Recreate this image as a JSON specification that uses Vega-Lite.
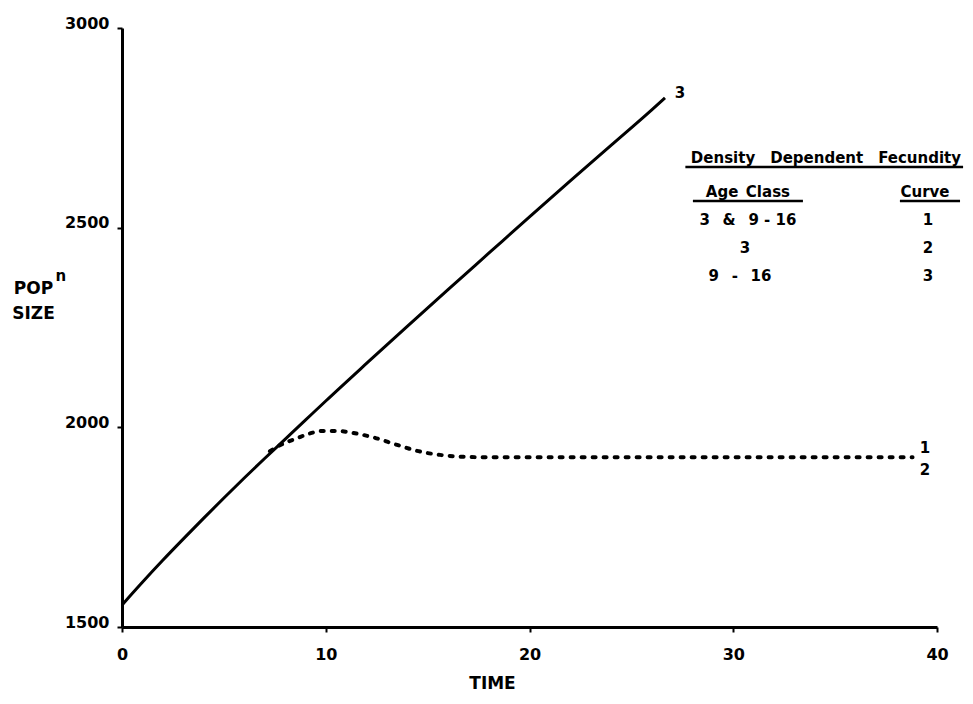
{
  "$schema": "https://vega.github.io/schema/vega-lite/v6.json",
  "width": 815,
  "height": 599,
  "autosize": {"type": "none"},
  "padding": {"left": 122, "top": 28, "right": 36, "bottom": 77},
  "background": "white",
  "config": {
    "view": {"stroke": null},
    "font": "DejaVu Sans",
    "axis": {
      "grid": false,
      "domainColor": "black",
      "domainWidth": 3,
      "tickColor": "black",
      "tickWidth": 2,
      "tickSize": 5,
      "labelFont": "DejaVu Sans",
      "labelFontWeight": "bold",
      "labelFontSize": 16,
      "labelColor": "black",
      "labelFlush": false,
      "titleFont": "DejaVu Sans",
      "titleFontWeight": "bold",
      "titleFontSize": 17,
      "titleColor": "black"
    }
  },
  "datasets": {
    "curve3": [
      {"time": 0, "pop": 1555}, {"time": 1, "pop": 1612}, {"time": 2, "pop": 1667},
      {"time": 3, "pop": 1720}, {"time": 4, "pop": 1772}, {"time": 5, "pop": 1823},
      {"time": 6, "pop": 1873}, {"time": 7, "pop": 1922}, {"time": 8, "pop": 1970},
      {"time": 9, "pop": 2018}, {"time": 10, "pop": 2066}, {"time": 12, "pop": 2160},
      {"time": 14, "pop": 2253}, {"time": 16, "pop": 2345}, {"time": 18, "pop": 2436},
      {"time": 20, "pop": 2527}, {"time": 22, "pop": 2617}, {"time": 24, "pop": 2706},
      {"time": 26, "pop": 2795}, {"time": 26.65, "pop": 2825}
    ],
    "curve12": [
      {"time": 7.26, "pop": 1940}, {"time": 7.75, "pop": 1955}, {"time": 8.6, "pop": 1973},
      {"time": 9.23, "pop": 1985}, {"time": 9.9, "pop": 1991}, {"time": 10.55, "pop": 1991},
      {"time": 11.34, "pop": 1986}, {"time": 12.32, "pop": 1975}, {"time": 13.5, "pop": 1956},
      {"time": 14.48, "pop": 1941}, {"time": 15.6, "pop": 1931}, {"time": 16.9, "pop": 1926},
      {"time": 18, "pop": 1925}, {"time": 20, "pop": 1925}, {"time": 25, "pop": 1925},
      {"time": 30, "pop": 1925}, {"time": 35, "pop": 1925}, {"time": 38.8, "pop": 1925}
    ],
    "labels": [
      {"label": "3", "time": 27.39, "pop": 2837},
      {"label": "1", "time": 39.41, "pop": 1948},
      {"label": "2", "time": 39.41, "pop": 1893},
      {"label": "Density\u2003Dependent\u2003Fecundity", "time": 34.55, "pop": 2675},
      {"label": "Age\u2002Class", "time": 30.72, "pop": 2589},
      {"label": "Curve", "time": 39.41, "pop": 2589},
      {"label": "3 \u2002&\u2002 9 - 16", "time": 30.72, "pop": 2519},
      {"label": "1", "time": 39.56, "pop": 2519},
      {"label": "3", "time": 30.58, "pop": 2449},
      {"label": "2", "time": 39.56, "pop": 2449},
      {"label": "9 \u2002-\u2002 16", "time": 30.33, "pop": 2379},
      {"label": "3", "time": 39.56, "pop": 2379}
    ],
    "superscript": [
      {"label": "n", "time": -3.0, "pop": 2379}
    ],
    "underlines": [
      {"from": 27.65, "to": 41.28, "pop": 2652},
      {"from": 28.02, "to": 33.42, "pop": 2567},
      {"from": 38.18, "to": 41.13, "pop": 2567}
    ]
  },
  "layer": [
    {
      "data": {"name": "curve3"},
      "mark": {"type": "line", "color": "black", "strokeWidth": 3, "interpolate": "monotone", "clip": false},
      "encoding": {
        "x": {
          "field": "time", "type": "quantitative",
          "scale": {"domain": [0, 40], "nice": false, "zero": false},
          "axis": {
            "values": [0, 10, 20, 30, 40],
            "labelPadding": 14,
            "title": "TIME",
            "titleX": 370,
            "titleY": 56,
            "titleBaseline": "middle",
            "titleAlign": "center"
          }
        },
        "y": {
          "field": "pop", "type": "quantitative",
          "scale": {"domain": [1500, 3000], "nice": false, "zero": false},
          "axis": {
            "values": [1500, 2000, 2500, 3000],
            "format": "d",
            "labelPadding": 8,
            "labelOffset": -5,
            "title": ["POP", "SIZE"],
            "titleAngle": 0,
            "titleAlign": "center",
            "titleBaseline": "middle",
            "titleX": -89,
            "titleY": 260,
            "titleLineHeight": 25
          }
        }
      }
    },
    {
      "data": {"name": "curve12"},
      "mark": {"type": "line", "color": "black", "strokeWidth": 4, "strokeDash": [3, 8], "strokeCap": "round", "interpolate": "monotone"},
      "encoding": {
        "x": {"field": "time", "type": "quantitative"},
        "y": {"field": "pop", "type": "quantitative"}
      }
    },
    {
      "data": {"name": "underlines"},
      "mark": {"type": "rule", "color": "black", "strokeWidth": 2.5},
      "encoding": {
        "x": {"field": "from", "type": "quantitative"},
        "x2": {"field": "to"},
        "y": {"field": "pop", "type": "quantitative"}
      }
    },
    {
      "data": {"name": "labels"},
      "mark": {"type": "text", "font": "DejaVu Sans", "fontWeight": "bold", "fontSize": 15, "color": "black", "align": "center", "baseline": "middle"},
      "encoding": {
        "x": {"field": "time", "type": "quantitative"},
        "y": {"field": "pop", "type": "quantitative"},
        "text": {"field": "label", "type": "nominal"}
      }
    },
    {
      "data": {"name": "superscript"},
      "mark": {"type": "text", "font": "DejaVu Sans", "fontWeight": "bold", "fontSize": 15, "color": "black", "align": "center", "baseline": "middle"},
      "encoding": {
        "x": {"field": "time", "type": "quantitative"},
        "y": {"field": "pop", "type": "quantitative"},
        "text": {"field": "label", "type": "nominal"}
      }
    }
  ]
}
